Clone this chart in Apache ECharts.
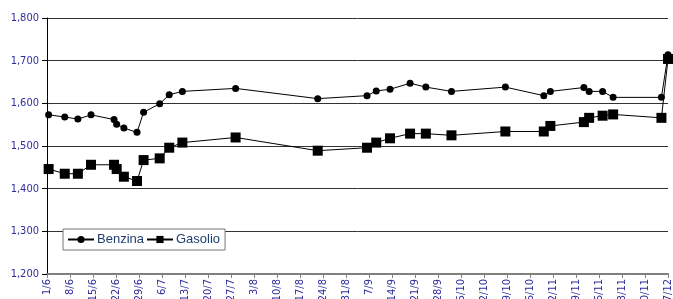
<!DOCTYPE html>
<html>
<head>
<meta charset="utf-8">
<script src="https://cdn.jsdelivr.net/npm/echarts@6/dist/echarts.min.js"></script>
<style>
  html, body { margin: 0; padding: 0; background: #fff; }
  #main { width: 673px; height: 299px; }
</style>
</head>
<body>
<div id="main"></div>
<script>
// giorni dall'1/6 per ogni rilevazione
var days = [0.5, 5.4, 9.4, 13.4, 20.4, 21.2, 23.4, 27.4, 29.4, 34.3, 37.2, 41.2, 57.4,
  82.4, 97.4, 100.2, 104.4, 110.5, 115.3, 123.1, 139.5, 151.2, 153.2, 163.4, 165,
  169.1, 172.3, 187, 189];
var benzina = [1573, 1568, 1563, 1573, 1562, 1551, 1542, 1532, 1579, 1599, 1620, 1628, 1635,
  1611, 1618, 1629, 1633, 1647, 1638, 1628, 1638, 1618, 1628, 1637, 1628,
  1628, 1614, 1614, 1714];
var gasolio = [1446, 1435, 1435, 1456, 1456, 1446, 1428, 1418, 1467, 1471, 1496, 1508, 1520,
  1489, 1496, 1508, 1518, 1529, 1529, 1525, 1534, 1534, 1547, 1556, 1566,
  1571, 1574, 1566, 1704];
var tickLabels = ['1/6', '8/6', '15/6', '22/6', '29/6', '6/7', '13/7', '20/7', '27/7', '3/8',
  '10/8', '17/8', '24/8', '31/8', '7/9', '14/9', '21/9', '28/9', '5/10', '12/10',
  '19/10', '26/10', '2/11', '9/11', '16/11', '23/11', '30/11', '7/12'];

var font = '"DejaVu Sans Condensed", "DejaVu Sans", sans-serif';
var labelBlue = '#2e2e9a';

function pairs(vals) {
  return days.map(function (d, i) { return [d, vals[i]]; });
}

var myChart = echarts.init(document.getElementById('main'));
myChart.setOption({
  animation: false,
  grid: { left: 47, right: 5, top: 18, bottom: 25, containLabel: false, outerBoundsMode: 'none' },
  legend: {
    left: 63,
    top: 229,
    padding: [4, 5, 4, 4],
    itemWidth: 26,
    itemHeight: 9,
    itemGap: 2,
    borderColor: '#777',
    borderWidth: 1,
    backgroundColor: '#fff',
    textStyle: { color: '#1f3d6e', fontSize: 13, fontFamily: '"Liberation Sans", sans-serif', padding: [0, 0, 0, -2] },
    data: ['Benzina', 'Gasolio']
  },
  xAxis: {
    type: 'value',
    min: 0,
    max: 189,
    interval: 7,
    axisLine: { lineStyle: { color: '#808080', width: 2 } },
    axisTick: { show: true, length: 4, lineStyle: { color: '#808080' } },
    splitLine: { show: false },
    axisLabel: {
      rotate: 90,
      margin: 5,
      color: labelBlue,
      fontSize: 11,
      fontFamily: font,
      showMinLabel: true,
      showMaxLabel: true,
      formatter: function (v) { return tickLabels[Math.round(v / 7)]; }
    }
  },
  yAxis: {
    type: 'value',
    min: 1200,
    max: 1800,
    interval: 100,
    axisLine: { show: true, lineStyle: { color: '#000', width: 1 } },
    axisTick: { show: true, length: 5, lineStyle: { color: '#000' } },
    splitLine: { lineStyle: { color: '#333', width: 1 } },
    axisLabel: {
      margin: 8,
      color: labelBlue,
      fontSize: 11,
      fontFamily: font,
      formatter: function (v) { return v.toLocaleString('en-US'); }
    }
  },
  series: [
    {
      name: 'Benzina',
      type: 'line',
      data: pairs(benzina),
      symbol: 'circle',
      symbolSize: 7,
      itemStyle: { color: '#000' },
      lineStyle: { color: '#000', width: 1 }
    },
    {
      name: 'Gasolio',
      type: 'line',
      data: pairs(gasolio),
      symbol: 'rect',
      symbolSize: 10,
      itemStyle: { color: '#000' },
      lineStyle: { color: '#000', width: 1 }
    }
  ]
});
</script>
</body>
</html>
